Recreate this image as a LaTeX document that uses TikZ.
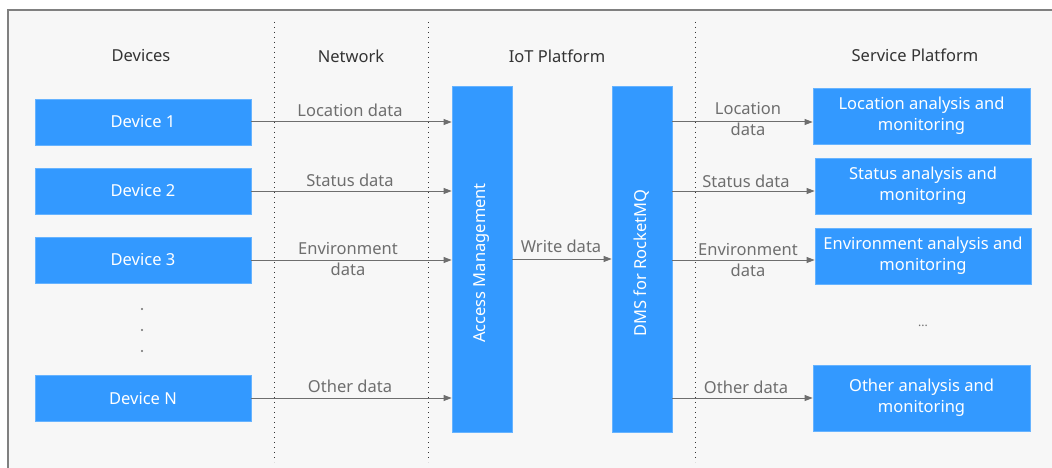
\documentclass[tikz,border=0pt]{standalone}
\usepackage{fontspec}
\setmainfont{Noto Sans}
\usetikzlibrary{arrows.meta}
\definecolor{bluebox}{HTML}{3399FF}
\definecolor{boxedge}{HTML}{66B3FF}
\definecolor{bgfill}{HTML}{F7F7F7}
\definecolor{framec}{HTML}{808080}
\definecolor{labelc}{HTML}{6E6E6E}
\definecolor{headc}{HTML}{333333}
\definecolor{arrowc}{HTML}{6E6E6E}
\begin{document}
\begin{tikzpicture}[x=1pt,y=-1pt,
  box/.style={draw=boxedge,line width=0.8pt,fill=bluebox,text=white,inner sep=0pt,align=center,font=\fontsize{16.5}{21}\selectfont},
  vtext/.style={text=white,inner sep=0pt,rotate=90,font=\fontsize{16.5}{21}\selectfont},
  head/.style={text=headc,font=\fontsize{16.5}{21}\selectfont},
  lbl/.style={text=labelc,font=\fontsize{16.5}{21}\selectfont,align=center,inner sep=0pt},
  flow/.style={draw=arrowc,line width=1pt,-{Triangle[length=8pt,width=6pt]}},
  sep/.style={draw=headc,line width=1pt,dash pattern=on 1pt off 4pt}]
\clip (0,0) rectangle (1052,468);
\fill[white] (0,0) rectangle (1052,468);
\draw[framec,line width=1.2pt,fill=bgfill] (8,10) rectangle (1070,490);
% separators
\coordinate (s1t) at (274,22); \coordinate (s1b) at (274,462);
\coordinate (s2t) at (428,22); \coordinate (s2b) at (428,462);
\coordinate (s3t) at (695,22); \coordinate (s3b) at (695,462);
\draw[sep] (s1t) -- (s1b);
\draw[sep] (s2t) -- (s2b);
\draw[sep] (s3t) -- (s3b);
% headers
\node[head] (h1) at (141,56) {Devices};
\node[head] (h2) at (351,56) {Network};
\node[head] (h3) at (557,56) {IoT Platform};
\node[head] (h4) at (915,55) {Service Platform};
% devices
\node[box,minimum width=216pt,minimum height=46pt] (d1) at (143,122) {Device 1};
\node[box,minimum width=216pt,minimum height=46pt] (d2) at (143,191) {Device 2};
\node[box,minimum width=216pt,minimum height=46pt] (d3) at (143,260) {Device 3};
\node[box,minimum width=216pt,minimum height=46pt] (dn) at (143,398) {Device N};
\foreach \yy [count=\i] in {309,330,351}
  \fill[arrowc] (142,\yy) circle (1.1pt) coordinate (dot\i);
% platform
\node[box,minimum width=60pt,minimum height=346pt] (am) at (482,259) {};
\node[vtext] (amt) at (482,263) {Access Management};
\node[box,minimum width=60pt,minimum height=346pt] (dms) at (642,259) {};
\node[vtext] (dmst) at (642,263) {DMS for RocketMQ};
% services
\node[box,minimum width=217pt,minimum height=56pt] (s1) at (921.5,116) {Location analysis and\\monitoring};
\node[box,minimum width=216pt,minimum height=56pt] (s2) at (923,186) {Status analysis and\\monitoring};
\node[box,minimum width=216pt,minimum height=56pt] (s3) at (923,256) {Environment analysis and\\monitoring};
\node[box,minimum width=217pt,minimum height=66pt] (s4) at (921.5,398) {Other analysis and\\monitoring};
\node[lbl,font=\fontsize{12}{14}\selectfont] (ell) at (923,326) {...};
% left arrows
\draw[flow] (d1.east) -- (am.west |- d1.east);
\draw[flow] (d2.east) -- (am.west |- d2.east);
\draw[flow] (d3.east) -- (am.west |- d3.east);
\draw[flow] (dn.east) -- (am.west |- dn.east);
\node[lbl] (l1) at (350,110) {Location data};
\node[lbl] (l2) at (350,180) {Status data};
\node[lbl] (l3) at (348,259) {Environment\\data};
\node[lbl] (l4) at (350,386) {Other data};
% write
\draw[flow] (am.east) -- (dms.west);
\node[lbl] (w) at (561,246) {Write data};
% right arrows
\coordinate (r1) at (672,122);
\coordinate (r2) at (672,191);
\coordinate (r3) at (672,260);
\coordinate (r4) at (672,398);
\draw[flow] (r1) -- (s1.west |- r1);
\draw[flow] (r2) -- (s2.west |- r2);
\draw[flow] (r3) -- (s3.west |- r3);
\draw[flow] (r4) -- (s4.west |- r4);
\node[lbl] (rl1) at (748,119) {Location\\data};
\node[lbl] (rl2) at (746,181) {Status data};
\node[lbl] (rl3) at (748,260) {Environment\\data};
\node[lbl] (rl4) at (746,387) {Other data};
\end{tikzpicture}
\end{document}
